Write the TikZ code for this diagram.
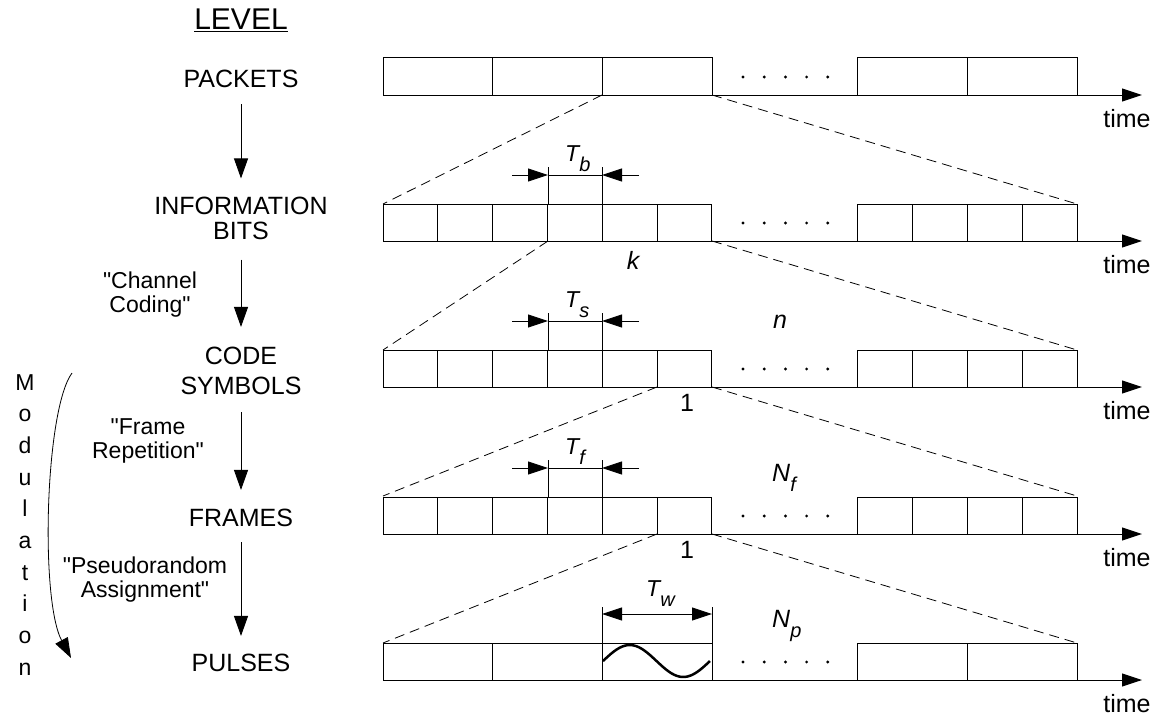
\documentclass[tikz,border=0pt]{standalone}
\usepackage{fontspec}
\setmainfont{Liberation Sans}
\usetikzlibrary{arrows.meta}

% italic label with a lowered index, e.g. T_b
\newcommand{\idxlab}[2]{{\itshape #1\raisebox{-10pt}{\fontsize{20}{20}\selectfont #2}}}

\begin{document}
\begin{tikzpicture}[x=1pt,y=-1pt,
    lev/.style={font=\fontsize{25}{30}\selectfont, align=center, inner sep=0pt},
    note/.style={font=\fontsize{23}{24}\selectfont, align=center, inner sep=0pt},
    txt/.style={font=\fontsize{25}{25}\selectfont, inner sep=0pt},
    flow/.style={-{Triangle[length=20pt,width=14pt]}, line width=0.9pt},
    cell/.style={line width=1pt},
    guide/.style={line width=0.8pt, dash pattern=on 10pt off 6pt},
    dim/.style={-{Triangle[length=20pt,width=13pt]}, line width=0.9pt}]
    \useasboundingbox (0,0) rectangle (1156,717);

    % level column
    \node[lev] (level) at (241,20) {\fontsize{30}{30}\selectfont\underline{LEVEL}};
    \node[lev] (packets) at (241,79) {PACKETS};
    \node[lev] (info) at (241,218) {INFORMATION\\[-5pt]BITS};
    \node[lev] (code) at (241,371) {CODE\\SYMBOLS};
    \node[lev] (frames) at (241,518) {FRAMES};
    \node[lev] (pulses) at (241,663) {PULSES};

    \draw[flow, shorten <=16pt, shorten >=18pt] (packets) -- (info);
    \draw[flow, shorten <=20pt, shorten >=20pt] (info) -- (code);
    \draw[flow, shorten <=17pt, shorten >=19pt] (code) -- (frames);
    \draw[flow, shorten <=15pt, shorten >=18pt] (frames) -- (pulses);

    \node[note] (chcod) at (150,295) {\textquotedbl Channel\\Coding\textquotedbl};
    \node[note] (frrep) at (148,441) {\textquotedbl Frame\\Repetition\textquotedbl};
    \node[note] (psass) at (145,580) {\textquotedbl Pseudorandom\\Assignment\textquotedbl};

    % modulation
    \foreach \ch [count=\i from 0] in {M,o,d,u,l,a,t,i,o,n}
        \node[font=\fontsize{23}{23}\selectfont, anchor=base, inner sep=0pt] (mod\i) at (25,390+31.67*\i) {\ch};
    \coordinate (modtop) at (72,373);
    \coordinate (modend) at (71,658);
    \draw[flow, line width=0.8pt] (modtop) .. controls (45,410) and (40,600) .. (modend);

    % time axes
    \foreach \yt [count=\r] in {58,204,350,497,643} {
        \draw[dim, line width=1pt] (383,\yt+37) -- (1142,\yt+37);
        \foreach \d in {0,...,4}
            \fill (743+21.2*\d,\yt+19) circle (1.6pt);
        \node[txt] (time\r) at (1127,\yt+61) {time};
    }

    % wide cells
    \foreach \yt in {58,643} {
        \foreach \i in {0,1,2}
            \draw[cell] (383+109.67*\i,\yt) rectangle ++(109.67,37);
        \foreach \i in {0,1}
            \draw[cell] (857+110*\i,\yt) rectangle ++(110,37);
    }
    % narrow cells
    \foreach \yt in {204,350,497} {
        \foreach \i in {0,...,5}
            \draw[cell] (383+54.83*\i,\yt) rectangle ++(54.83,37);
        \foreach \i in {0,...,3}
            \draw[cell] (857+55*\i,\yt) rectangle ++(55,37);
    }

    % zoom lines
    \foreach \ya/\xa in {95/602, 241/548, 387/657, 534/657} {
        \draw[guide] (\xa,\ya) -- (383,\ya+109);
        \draw[guide] (712,\ya) -- (1077,\ya+109);
    }

    % durations
    \foreach \yt/\sub in {204/b, 350/s, 497/f} {
        \draw[cell] (548,\yt-37) -- (548,\yt);
        \draw[cell] (602,\yt-37) -- (602,\yt);
        \draw[cell] (548,\yt-29) -- (602,\yt-29);
        \draw[dim] (512,\yt-29) -- (548,\yt-29);
        \draw[dim] (639,\yt-29) -- (602,\yt-29);
        \node[txt, font=\fontsize{23}{23}\selectfont, anchor=base west] (T\sub) at (565,\yt-43) {\idxlab{T}{\sub}};
    }
    \draw[cell] (602,607) -- (602,643);
    \draw[cell] (712,607) -- (712,643);
    \draw[dim, {Triangle[length=20pt,width=13pt]}-{Triangle[length=20pt,width=13pt]}] (602,614) -- (712,614);
    \node[txt, font=\fontsize{23}{23}\selectfont, anchor=base west] (Tw) at (646,596) {\idxlab{T}{w}};

    % pulse shape
    \draw[line width=2.5pt, domain=0:1, smooth, samples=40, variable=\t]
        plot ({603+107*\t}, {661-16*sin(360*\t)});

    % counts
    \node[txt] (k) at (633,260) {\itshape k};
    \node[txt] (one1) at (687,403) {1};
    \node[txt] (one2) at (687,550) {1};
    \node[txt, anchor=base west] (n) at (773,328) {\itshape n};
    \node[txt, anchor=base west] (Nf) at (772,481) {\idxlab{N}{f}};
    \node[txt, anchor=base west] (Np) at (772,627) {\idxlab{N}{p}};
\end{tikzpicture}
\end{document}
